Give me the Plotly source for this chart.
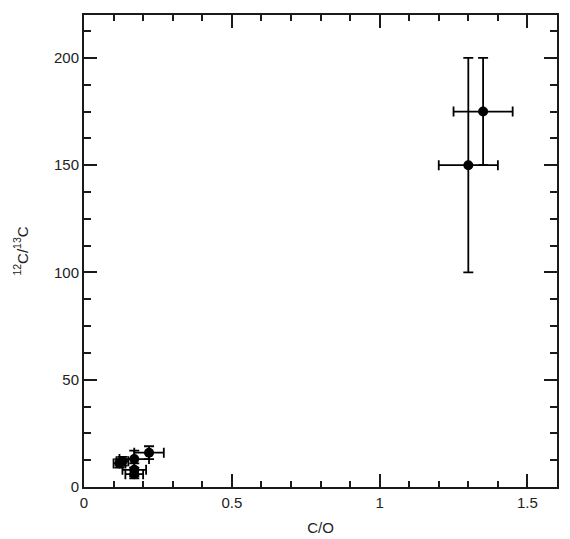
import plotly.graph_objects as go

# Data
co_ratio = [0.22, 0.17, 0.13, 0.12, 0.17, 0.17, 1.30, 1.35]
co_err = [0.05, 0.05, 0.02, 0.02, 0.04, 0.03, 0.10, 0.10]
c12_c13 = [16.0, 13.0, 12.0, 11.0, 8.0, 6.0, 150.0, 175.0]
c_err = [3.0, 4.0, 2.0, 2.0, 3.0, 2.0, 50.0, 25.0]

x_tickvals = [0, 0.5, 1, 1.5]
x_ticktext = ["0", "0.5", "1", "1.5"]
y_tickvals = [0, 50, 100, 150, 200]
y_ticktext = ["0", "50", "100", "150", "200"]

font_family = "Liberation Sans, Arial, Helvetica, sans-serif"
ink = "#1a1a1a"
text_col = "#222"

fig = go.Figure()
fig.add_trace(go.Scatter(
    x=co_ratio, y=c12_c13, mode="markers",
    marker=dict(color="black", size=10, symbol="circle"),
    error_x=dict(type="data", array=co_err, visible=True, color="black", thickness=1.8, width=5),
    error_y=dict(type="data", array=c_err, visible=True, color="black", thickness=1.8, width=5),
    showlegend=False,
    cliponaxis=False,
))

axis_common = dict(
    showgrid=False, zeroline=False, showline=True, linecolor=ink, linewidth=2,
    mirror="ticks", ticks="inside", tickcolor=ink, tickwidth=1.6, ticklen=13,
    tickfont=dict(family=font_family, size=15, color=text_col),
    automargin=False,
)

fig.update_xaxes(
    range=[0, 1.6], tickmode="array", tickvals=x_tickvals, ticktext=x_ticktext,
    minor=dict(dtick=0.1, tick0=0, ticks="inside", ticklen=6, tickwidth=1.6, tickcolor=ink),
    title=dict(text="C/O", font=dict(family=font_family, size=15, color=text_col), standoff=12),
    ticklabelstandoff=1,
    **axis_common,
)
fig.update_yaxes(
    range=[0, 220], tickmode="array", tickvals=y_tickvals, ticktext=y_ticktext,
    minor=dict(dtick=12.5, tick0=0, ticks="inside", ticklen=7, tickwidth=1.6, tickcolor=ink),
    title=dict(text="<sup>12</sup>C/<sup>13</sup>C", font=dict(family=font_family, size=15, color=text_col), standoff=22),
    ticklabelstandoff=0,
    **axis_common,
)

# page body has an 8px margin, so the figure is shrunk and margins shifted to compensate
fig.update_layout(
    width=562, height=531,
    margin=dict(l=76, r=13, t=7, b=52),
    paper_bgcolor="white", plot_bgcolor="white",
)

fig.write_html("out.html")
